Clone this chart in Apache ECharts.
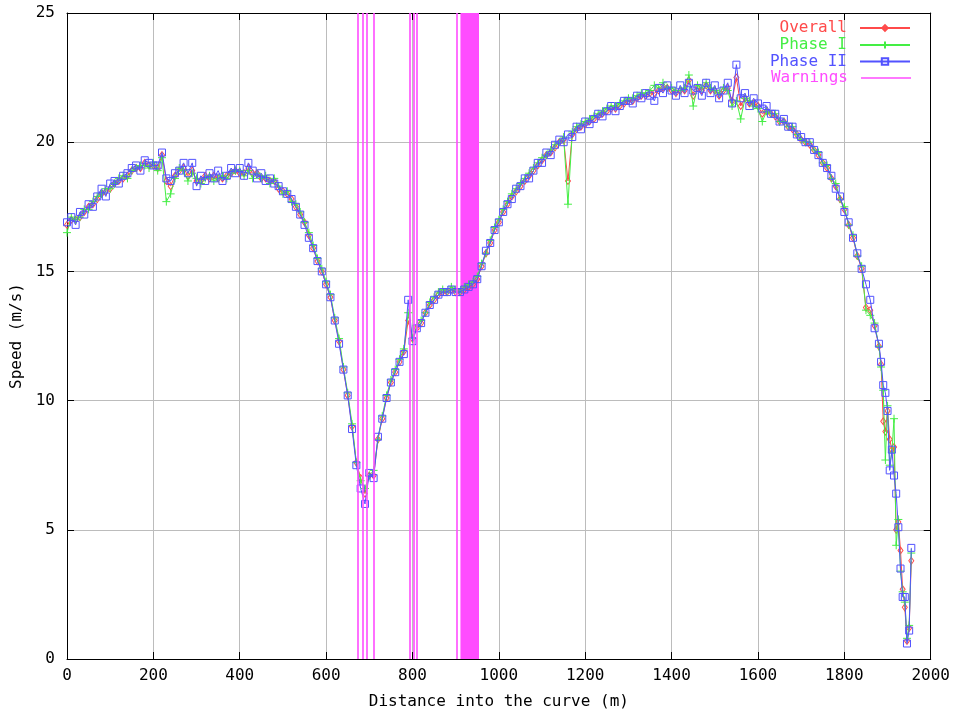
<!DOCTYPE html>
<html>
<head>
<meta charset="utf-8">
<title>Speed along the curve</title>
<script src="https://cdn.jsdelivr.net/npm/echarts@6/dist/echarts.min.js"></script>
<style>
  html, body { margin: 0; padding: 0; background: #ffffff; }
  #chart { width: 953px; height: 715px; }
</style>
</head>
<body>
<div id="chart"></div>
<script>
// Sample positions along the curve (m)
const distanceM = [
  0, 10, 20, 30, 40, 50, 60, 70, 80, 90,
  100, 110, 120, 130, 140, 150, 160, 170, 180, 190,
  200, 210, 220, 230, 240, 250, 260, 270, 280, 290,
  300, 310, 320, 330, 340, 350, 360, 370, 380, 390,
  400, 410, 420, 430, 440, 450, 460, 470, 480, 490,
  500, 510, 520, 530, 540, 550, 560, 570, 580, 590,
  600, 610, 620, 630, 640, 650, 660, 670, 680, 690,
  700, 710, 720, 730, 740, 750, 760, 770, 780, 790,
  800, 810, 820, 830, 840, 850, 860, 870, 880, 890,
  900, 910, 920, 930, 940, 950, 960, 970, 980, 990,
  1000, 1010, 1020, 1030, 1040, 1050, 1060, 1070, 1080, 1090,
  1100, 1110, 1120, 1130, 1140, 1150, 1160, 1170, 1180, 1190,
  1200, 1210, 1220, 1230, 1240, 1250, 1260, 1270, 1280, 1290,
  1300, 1310, 1320, 1330, 1340, 1350, 1360, 1370, 1380, 1390,
  1400, 1410, 1420, 1430, 1440, 1450, 1460, 1470, 1480, 1490,
  1500, 1510, 1520, 1530, 1540, 1550, 1560, 1570, 1580, 1590,
  1600, 1610, 1620, 1630, 1640, 1650, 1660, 1670, 1680, 1690,
  1700, 1710, 1720, 1730, 1740, 1750, 1760, 1770, 1780, 1790,
  1800, 1810, 1820, 1830, 1840, 1850, 1860, 1870, 1880,
  1885, 1890, 1895, 1900, 1905, 1910, 1915, 1920, 1925, 1930, 1935, 1940, 1945, 1950, 1955
];

// Overall speed estimate (m/s)
const overallSpeed = [
  16.8, 17.0, 17.0, 17.1, 17.3, 17.5, 17.6, 17.8, 18.0, 18.1,
  18.2, 18.4, 18.5, 18.6, 18.7, 18.9, 19.0, 19.0, 19.2, 19.1,
  19.1, 19.0, 19.5, 18.5, 18.3, 18.7, 18.9, 19.0, 18.7, 18.9,
  18.5, 18.5, 18.7, 18.6, 18.7, 18.6, 18.6, 18.7, 18.8, 18.9,
  18.8, 18.8, 19.0, 18.8, 18.8, 18.6, 18.6, 18.5, 18.5, 18.2,
  18.1, 18.0, 17.8, 17.5, 17.2, 16.9, 16.4, 15.9, 15.4, 15.0,
  14.5, 14.0, 13.1, 12.3, 11.2, 10.2, 9.0, 7.6, 7.0, 6.4,
  7.1, 7.1, 8.5, 9.3, 10.1, 10.7, 11.1, 11.5, 11.9, 13.1,
  12.4, 12.8, 13.0, 13.4, 13.7, 13.9, 14.1, 14.2, 14.2, 14.3,
  14.2, 14.2, 14.3, 14.4, 14.5, 14.7, 15.2, 15.7, 16.1, 16.6,
  16.9, 17.3, 17.6, 17.9, 18.1, 18.3, 18.5, 18.7, 18.9, 19.1,
  19.3, 19.5, 19.6, 19.8, 20.0, 20.1, 18.5, 20.3, 20.5, 20.6,
  20.7, 20.8, 20.9, 21.0, 21.1, 21.2, 21.3, 21.3, 21.4, 21.5,
  21.6, 21.6, 21.7, 21.8, 21.8, 21.9, 21.9, 22.0, 22.1, 22.1,
  22.0, 21.9, 22.0, 22.0, 22.4, 21.8, 22.1, 22.0, 22.2, 22.0,
  22.0, 21.8, 22.0, 22.1, 21.6, 22.5, 21.4, 21.7, 21.5, 21.5,
  21.4, 21.1, 21.2, 21.1, 21.0, 20.8, 20.8, 20.6, 20.5, 20.3,
  20.1, 20.0, 19.9, 19.7, 19.5, 19.2, 19.0, 18.6, 18.3, 17.8,
  17.4, 16.8, 16.3, 15.6, 15.1, 13.6, 13.5, 12.9, 12.1,
  11.4, 9.2, 8.8, 9.6, 8.5, 8.1, 8.2, 5.0, 5.3, 4.2, 2.7, 2.0, 0.7, 1.2, 3.8
];

// Phase I speed estimate (m/s)
const phaseOneSpeed = [
  16.5, 17.1, 17.0, 17.1, 17.4, 17.4, 17.7, 17.9, 18.0, 18.2,
  18.2, 18.4, 18.6, 18.7, 18.6, 18.9, 19.0, 19.1, 19.1, 19.0,
  19.2, 18.9, 19.4, 17.7, 18.0, 18.6, 19.0, 18.9, 18.5, 18.8,
  18.6, 18.4, 18.6, 18.7, 18.5, 18.6, 18.7, 18.6, 18.8, 18.9,
  18.9, 18.7, 18.9, 18.6, 18.8, 18.6, 18.7, 18.4, 18.6, 18.3,
  18.0, 18.1, 17.7, 17.6, 17.3, 16.9, 16.5, 16.0, 15.5, 15.1,
  14.6, 14.1, 13.2, 12.4, 11.3, 10.3, 9.1, 7.6, 6.9, 6.6,
  7.1, 7.3, 8.5, 9.4, 10.2, 10.8, 11.2, 11.6, 12.0, 13.4,
  12.4, 12.9, 13.1, 13.4, 13.8, 14.0, 14.2, 14.3, 14.2, 14.4,
  14.3, 14.2, 14.4, 14.5, 14.6, 14.8, 15.3, 15.7, 16.2, 16.7,
  17.0, 17.4, 17.7, 18.0, 18.2, 18.4, 18.6, 18.8, 19.0, 19.2,
  19.4, 19.5, 19.7, 19.9, 20.0, 20.2, 17.6, 20.4, 20.6, 20.7,
  20.8, 20.9, 21.0, 21.1, 21.2, 21.3, 21.4, 21.4, 21.5, 21.6,
  21.7, 21.7, 21.8, 21.9, 21.9, 22.0, 22.2, 22.1, 22.3, 22.1,
  22.1, 22.0, 22.0, 22.1, 22.6, 21.4, 22.2, 22.1, 22.3, 22.1,
  22.0, 21.9, 22.1, 22.0, 21.4, 21.6, 20.9, 21.7, 21.6, 21.4,
  21.3, 20.8, 21.2, 21.1, 21.1, 20.8, 20.8, 20.6, 20.6, 20.3,
  20.1, 20.0, 20.0, 19.7, 19.6, 19.2, 19.1, 18.6, 18.4, 17.8,
  17.5, 16.8, 16.4, 15.6, 15.2, 13.5, 13.3, 13.0, 12.1,
  11.3, 10.4, 7.7, 9.8, 7.5, 8.0, 9.3, 4.4, 5.4, 3.4, 2.6, 2.2, 0.8, 1.3, 4.1
];

// Phase II speed estimate (m/s)
const phaseTwoSpeed = [
  16.9, 17.1, 16.8, 17.3, 17.2, 17.6, 17.5, 17.9, 18.2, 17.9,
  18.4, 18.5, 18.4, 18.7, 18.8, 19.0, 19.1, 18.9, 19.3, 19.2,
  19.1, 19.1, 19.6, 18.6, 18.5, 18.8, 18.9, 19.2, 18.8, 19.2,
  18.3, 18.7, 18.5, 18.8, 18.6, 18.9, 18.5, 18.7, 19.0, 18.8,
  19.0, 18.7, 19.2, 18.9, 18.6, 18.8, 18.5, 18.6, 18.4, 18.3,
  18.1, 18.0, 17.8, 17.5, 17.2, 16.8, 16.3, 15.9, 15.4, 15.0,
  14.5, 14.0, 13.1, 12.2, 11.2, 10.2, 8.9, 7.5, 6.6, 6.0,
  7.2, 7.0, 8.6, 9.3, 10.1, 10.7, 11.1, 11.5, 11.8, 13.9,
  12.3, 12.8, 13.0, 13.4, 13.7, 13.9, 14.1, 14.2, 14.2, 14.3,
  14.2, 14.2, 14.3, 14.4, 14.5, 14.7, 15.2, 15.8, 16.1, 16.6,
  16.9, 17.3, 17.6, 17.8, 18.2, 18.3, 18.6, 18.6, 18.9, 19.2,
  19.2, 19.6, 19.5, 19.9, 20.1, 20.0, 20.3, 20.2, 20.6, 20.5,
  20.8, 20.7, 20.9, 21.1, 21.0, 21.2, 21.4, 21.2, 21.4, 21.6,
  21.6, 21.5, 21.8, 21.7, 21.9, 21.8, 21.6, 22.1, 21.9, 22.2,
  22.0, 21.8, 22.2, 21.9, 22.3, 22.0, 22.1, 21.8, 22.3, 21.9,
  22.2, 21.7, 22.0, 22.3, 21.5, 23.0, 21.7, 21.9, 21.4, 21.7,
  21.5, 21.3, 21.4, 21.1, 21.1, 20.8, 20.9, 20.6, 20.6, 20.3,
  20.2, 20.0, 20.0, 19.7, 19.5, 19.2, 19.0, 18.7, 18.2, 17.9,
  17.3, 16.9, 16.3, 15.7, 15.1, 14.5, 13.9, 12.8, 12.2,
  11.5, 10.6, 10.3, 9.6, 7.3, 8.1, 7.1, 6.4, 5.1, 3.5, 2.4, 2.4, 0.6, 1.1, 4.3
];

// Warning positions (m): single flags and one continuous stretch
const warningAt = [673, 684, 693, 710, 793, 803, 809, 903];
const warningStretch = [[911, 954]];

const xTicks = [0, 200, 400, 600, 800, 1000, 1200, 1400, 1600, 1800, 2000];
const yTicks = [0, 5, 10, 15, 20, 25];

const FONT = '"DejaVu Sans Mono", "Liberation Mono", monospace';
const C_OVERALL = '#ff4a4a';
const C_PHASE1 = '#44ee44';
const C_PHASE2 = '#5252ff';
const C_WARN = '#ff4cff';

function pairs(values) {
  return distanceM.map((d, i) => [d, values[i]]);
}

function speedSeries(name, values, color, symbol, size, z) {
  return {
    type: 'line',
    name: name,
    data: pairs(values),
    z: z,
    silent: true,
    animation: false,
    showAllSymbol: true,
    symbol: symbol,
    symbolSize: size,
    lineStyle: { color: color, width: 1 },
    itemStyle: { color: 'rgba(255,255,255,0)', borderColor: color, borderWidth: 1 },
    emphasis: { disabled: true }
  };
}

const axisFont = { fontFamily: FONT, fontSize: 16, color: '#000' };

function legendFor(name, color, top, iconHeight, icon) {
  const item = icon ? { name: name, icon: icon } : { name: name };
  return {
    data: [item],
    right: 42,
    top: top,
    padding: 0,
    align: 'right',
    itemWidth: 50,
    itemHeight: iconHeight,
    selectedMode: false,
    textStyle: { fontFamily: FONT, fontSize: 16, color: color, padding: [0, 8, 0, 0] }
  };
}

const chart = echarts.init(document.getElementById('chart'), null, { renderer: 'canvas' });

chart.setOption({
  animation: false,
  backgroundColor: '#ffffff',
  grid: { left: 67, right: 22, top: 13, bottom: 52, show: false },
  legend: [
    legendFor('Overall', C_OVERALL, 20, 7),
    legendFor('Phase I', C_PHASE1, 37, 9),
    legendFor('Phase II', C_PHASE2, 53.5, 8),
    legendFor('Warnings', C_WARN, 70, 1.5, 'rect')
  ],
  xAxis: [
    {
      type: 'value', min: xTicks[0], max: xTicks[xTicks.length - 1], interval: 200,
      position: 'bottom',
      name: 'Distance into the curve (m)', nameLocation: 'middle', nameGap: 35,
      nameTextStyle: axisFont,
      axisLine: { show: true, lineStyle: { color: '#000', width: 1 } },
      axisTick: { show: true, inside: true, length: 7, lineStyle: { color: '#000' } },
      axisLabel: Object.assign({ margin: 9, formatter: v => String(v) }, axisFont),
      splitLine: { show: true, lineStyle: { color: '#bcbcbc', width: 1 } }
    },
    {
      type: 'value', min: xTicks[0], max: xTicks[xTicks.length - 1], interval: 200,
      position: 'top',
      axisLine: { show: true, onZero: false, lineStyle: { color: '#000', width: 1 } },
      axisTick: { show: true, inside: true, length: 7, lineStyle: { color: '#000' } },
      axisLabel: { show: false },
      splitLine: { show: false }
    }
  ],
  yAxis: [
    {
      type: 'value', min: yTicks[0], max: yTicks[yTicks.length - 1], interval: 5,
      position: 'left',
      name: 'Speed (m/s)', nameLocation: 'middle', nameGap: 41, nameRotate: 90,
      nameTextStyle: axisFont,
      axisLine: { show: true, lineStyle: { color: '#000', width: 1 } },
      axisTick: { show: true, inside: true, length: 7, lineStyle: { color: '#000' } },
      axisLabel: Object.assign({ margin: 12, formatter: v => String(v) }, axisFont),
      splitLine: { show: true, lineStyle: { color: '#bcbcbc', width: 1 } }
    },
    {
      type: 'value', min: yTicks[0], max: yTicks[yTicks.length - 1], interval: 5,
      position: 'right',
      axisLine: { show: true, onZero: false, lineStyle: { color: '#000', width: 1 } },
      axisTick: { show: true, inside: true, length: 7, lineStyle: { color: '#000' } },
      axisLabel: { show: false },
      splitLine: { show: false }
    }
  ],
  series: [
    speedSeries('Overall', overallSpeed, C_OVERALL, 'path://M5,0L9,6L5,12L1,6Z', [5, 7], 2),
    speedSeries('Phase I', phaseOneSpeed, C_PHASE1, 'path://M0,5H10M5,0V10', 8, 3),
    speedSeries('Phase II', phaseTwoSpeed, C_PHASE2, 'rect', 7, 4),
    {
      type: 'line',
      name: 'Warnings',
      data: [],
      z: 10,
      silent: true,
      symbol: 'none',
      lineStyle: { color: C_WARN, width: 1 },
      itemStyle: { color: C_WARN },
      markLine: {
        silent: true,
        symbol: 'none',
        animation: false,
        label: { show: false },
        lineStyle: { color: C_WARN, width: 1.6, type: 'solid', opacity: 1 },
        emphasis: { disabled: true },
        data: warningAt.map(d => ({ xAxis: d }))
      },
      markArea: {
        silent: true,
        animation: false,
        label: { show: false },
        itemStyle: { color: C_WARN, opacity: 1 },
        emphasis: { disabled: true },
        data: warningStretch.map(r => [{ xAxis: r[0] }, { xAxis: r[1] }])
      }
    }
  ]
});
</script>
</body>
</html>
